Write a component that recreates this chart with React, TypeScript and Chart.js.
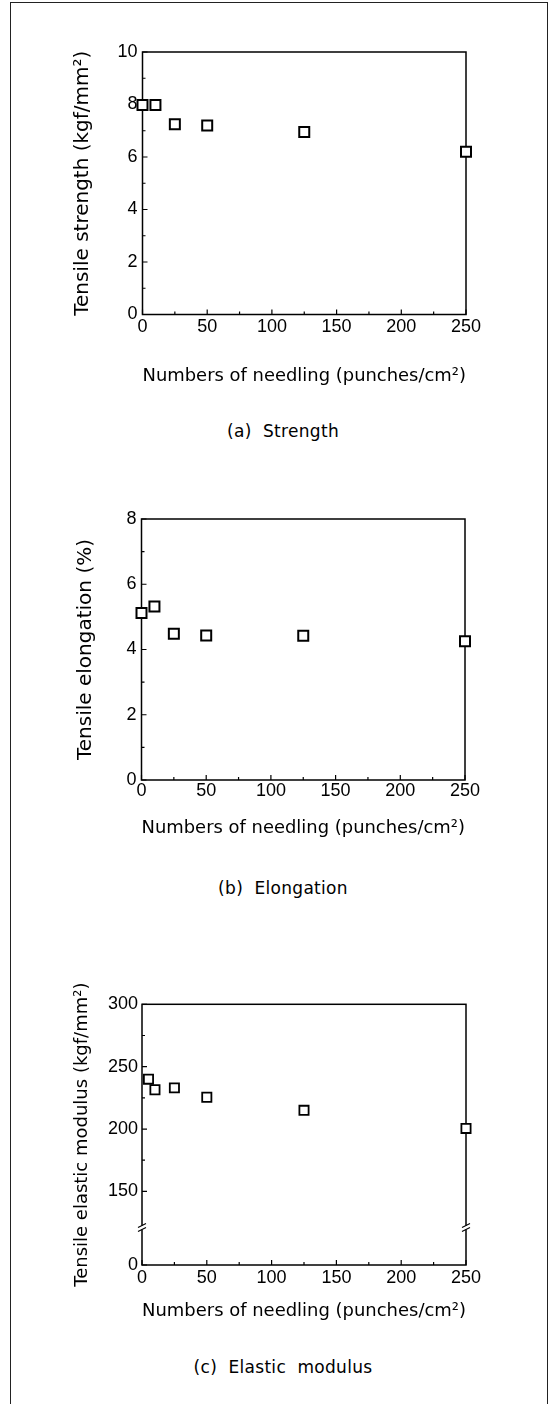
import React, { useEffect, useRef } from "react";
import { Chart, registerables } from "chart.js";
Chart.register(...registerables);

// ---- data ----
const needling = [0, 10, 25, 50, 125, 250];
const tensileStrength = [7.98, 7.98, 7.25, 7.2, 6.95, 6.2];
const tensileElongation = [5.12, 5.32, 4.48, 4.43, 4.42, 4.25];
const modulusNeedling = [5, 10, 25, 50, 125, 250];
const elasticModulus = [240, 231.5, 233, 225.5, 215, 200.5];

// ---- tick values / labels ----
const xTickValues = [0, 50, 100, 150, 200, 250];
const xMinorValues = [25, 75, 125, 175, 225];
const strengthTickValues = [0, 2, 4, 6, 8, 10];
const strengthMinorValues = [1, 3, 5, 7, 9];
const elongationTickValues = [0, 2, 4, 6, 8];
const elongationMinorValues = [1, 3, 5, 7];
const modulusAxisFloor = 91; // broken axis: the "0" label sits at this position
const modulusTickValues = [modulusAxisFloor, 150, 200, 250, 300];
const modulusTickLabels = ["0", "150", "200", "250", "300"];
const modulusMinorValues = [175, 225, 275];
const modulusBreakValue = 121;

const xTitle = "Numbers of needling (punches/cm²)";
const INK = "#000";
const W = 557;

type PanelCfg = {
  top: number;
  height: number;
  plot: { left: number; right: number; top: number; bottom: number };
  xs: number[];
  ys: number[];
  yMin: number;
  yMax: number;
  yTicks: number[];
  yLabels: string[];
  yMinor: number[];
  yTitle: string;
  yTitleSize: number;
  yTitleX: number;
  xTitleSize: number;
  xTitleY: number;
  xTickPad: number;
  yTickPad: number;
  r: number;
  bw: number;
  breakAt?: number;
};

function Panel(p: PanelCfg) {
  const ref = useRef<HTMLCanvasElement>(null);
  useEffect(() => {
    const canvas = ref.current!;
    const bottomPage = p.top + p.height;
    const xLh = p.xTitleSize * 1.2;
    const yLh = p.yTitleSize * 1.2;
    const framePlugin = {
      id: "frame",
      beforeDatasetsDraw(chart: any) {
        const { ctx, chartArea: a, scales } = chart;
        const xs = scales.x;
        const ys = scales.y;
        ctx.save();
        ctx.strokeStyle = INK;
        ctx.lineWidth = 1.5;
        ctx.strokeRect(a.left, a.top, a.right - a.left, a.bottom - a.top);
        ctx.lineWidth = 1.2;
        ctx.beginPath();
        xTickValues.forEach((v) => {
          const px = xs.getPixelForValue(v);
          ctx.moveTo(px, a.bottom);
          ctx.lineTo(px, a.bottom - 5);
        });
        xMinorValues.forEach((v) => {
          const px = xs.getPixelForValue(v);
          ctx.moveTo(px, a.bottom);
          ctx.lineTo(px, a.bottom - 3);
        });
        p.yTicks.forEach((v) => {
          const py = ys.getPixelForValue(v);
          ctx.moveTo(a.left, py);
          ctx.lineTo(a.left + 5, py);
        });
        p.yMinor.forEach((v) => {
          const py = ys.getPixelForValue(v);
          ctx.moveTo(a.left, py);
          ctx.lineTo(a.left + 3, py);
        });
        ctx.stroke();
        if (p.breakAt !== undefined) {
          const py = ys.getPixelForValue(p.breakAt);
          [a.left, a.right].forEach((xx: number) => {
            ctx.fillStyle = "#fff";
            ctx.fillRect(xx - 2, py - 2, 4, 4);
            ctx.beginPath();
            ctx.moveTo(xx - 4, py);
            ctx.lineTo(xx + 4, py - 4);
            ctx.moveTo(xx - 4, py + 4);
            ctx.lineTo(xx + 4, py);
            ctx.stroke();
          });
        }
        ctx.restore();
      },
    };
    const chart = new Chart(canvas, {
      type: "scatter",
      data: {
        datasets: [
          {
            data: p.xs.map((x, i) => ({ x, y: p.ys[i] })),
            pointStyle: "rect",
            pointRadius: p.r,
            pointHoverRadius: p.r,
            borderColor: INK,
            backgroundColor: "#fff",
            borderWidth: p.bw,
            pointBorderWidth: p.bw,
            clip: false as any,
          } as any,
        ],
      },
      options: {
        responsive: false,
        animation: false,
        devicePixelRatio: 1,
        events: [],
        layout: {
          padding: { top: p.plot.top - p.top, left: 0, right: W - p.plot.right, bottom: 0 },
        },
        plugins: {
          legend: { display: false },
          tooltip: { enabled: false },
        },
        scales: {
          x: {
            type: "linear",
            position: "bottom",
            min: 0,
            max: 250,
            grid: { display: false, drawTicks: false },
            border: { display: false },
            afterBuildTicks: (s: any) => {
              s.ticks = xTickValues.map((v) => ({ value: v }));
            },
            afterFit: (s: any) => {
              s.height = bottomPage - p.plot.bottom;
            },
            ticks: {
              autoSkip: false,
              maxRotation: 0,
              minRotation: 0,
              padding: p.xTickPad,
              color: INK,
              font: { family: "Liberation Sans", size: 18 },
              callback: (v: any) => String(v),
            },
            title: {
              display: true,
              text: xTitle,
              color: INK,
              font: { family: "DejaVu Sans", size: p.xTitleSize },
              padding: { top: 0, bottom: bottomPage - p.xTitleY - xLh / 2 },
            },
          },
          y: {
            type: "linear",
            position: "left",
            min: p.yMin,
            max: p.yMax,
            grid: { display: false, drawTicks: false },
            border: { display: false },
            afterBuildTicks: (s: any) => {
              s.ticks = p.yTicks.map((v) => ({ value: v }));
            },
            afterFit: (s: any) => {
              s.width = p.plot.left;
            },
            ticks: {
              autoSkip: false,
              padding: p.yTickPad,
              color: INK,
              font: { family: "Liberation Sans", size: 18 },
              callback: (_v: any, i: number) => p.yLabels[i],
            },
            title: {
              display: true,
              text: p.yTitle,
              color: INK,
              font: { family: "DejaVu Sans", size: p.yTitleSize },
              padding: { top: p.yTitleX - yLh / 2, bottom: 0 },
            },
          },
        },
      } as any,
      plugins: [framePlugin],
    });
    return () => chart.destroy();
  }, []);
  return (
    <canvas
      ref={ref}
      width={W}
      height={p.height}
      style={{ position: "absolute", left: 0, top: p.top, width: W, height: p.height }}
    />
  );
}

function Caption({ text, y }: { text: string; y: number }) {
  return (
    <div
      style={{
        position: "absolute",
        left: 133,
        width: 300,
        top: y - 10,
        height: 20,
        lineHeight: "20px",
        textAlign: "center",
        fontFamily: "DejaVu Sans",
        fontSize: 17,
        letterSpacing: "0.3px",
        whiteSpace: "pre",
        color: INK,
      }}
    >
      {text}
    </div>
  );
}

export default function App() {
  return (
    <div
      style={{
        position: "absolute",
        left: 0,
        top: 0,
        width: W,
        height: 1404,
        background: "#fff",
        overflow: "hidden",
      }}
    >
      <div
        style={{
          position: "absolute",
          left: 10,
          top: 2,
          width: 538,
          height: 1420,
          borderLeft: "1px solid #222",
          borderTop: "1px solid #222",
          borderRight: "1px solid #222",
          boxSizing: "border-box",
        }}
      />
      <Panel
        top={20}
        height={380}
        plot={{ left: 142.5, right: 466, top: 52, bottom: 314.5 }}
        xs={needling}
        ys={tensileStrength}
        yMin={0}
        yMax={10}
        yTicks={strengthTickValues}
        yLabels={strengthTickValues.map(String)}
        yMinor={strengthMinorValues}
        yTitle="Tensile strength (kgf/mm²)"
        yTitleSize={20}
        yTitleX={83}
        xTitleSize={18.5}
        xTitleY={376}
        xTickPad={2}
        yTickPad={5}
        r={7.07}
        bw={2}
      />
      <Caption text="(a)  Strength" y={431} />
      <Panel
        top={470}
        height={375}
        plot={{ left: 141.5, right: 465, top: 519, bottom: 780 }}
        xs={needling}
        ys={tensileElongation}
        yMin={0}
        yMax={8}
        yTicks={elongationTickValues}
        yLabels={elongationTickValues.map(String)}
        yMinor={elongationMinorValues}
        yTitle="Tensile elongation (%)"
        yTitleSize={20}
        yTitleX={86}
        xTitleSize={18.5}
        xTitleY={828}
        xTickPad={0.5}
        yTickPad={5}
        r={7.07}
        bw={2}
      />
      <Caption text="(b)  Elongation" y={888} />
      <Panel
        top={960}
        height={370}
        plot={{ left: 142, right: 466, top: 1004.3, bottom: 1265 }}
        xs={modulusNeedling}
        ys={elasticModulus}
        yMin={modulusAxisFloor}
        yMax={300}
        yTicks={modulusTickValues}
        yLabels={modulusTickLabels}
        yMinor={modulusMinorValues}
        yTitle="Tensile elastic modulus (kgf/mm²)"
        yTitleSize={18}
        yTitleX={82.5}
        xTitleSize={18}
        xTitleY={1311.5}
        xTickPad={2.5}
        yTickPad={4}
        r={6.5}
        bw={1.8}
        breakAt={modulusBreakValue}
      />
      <Caption text="(c)  Elastic  modulus" y={1367} />
    </div>
  );
}
